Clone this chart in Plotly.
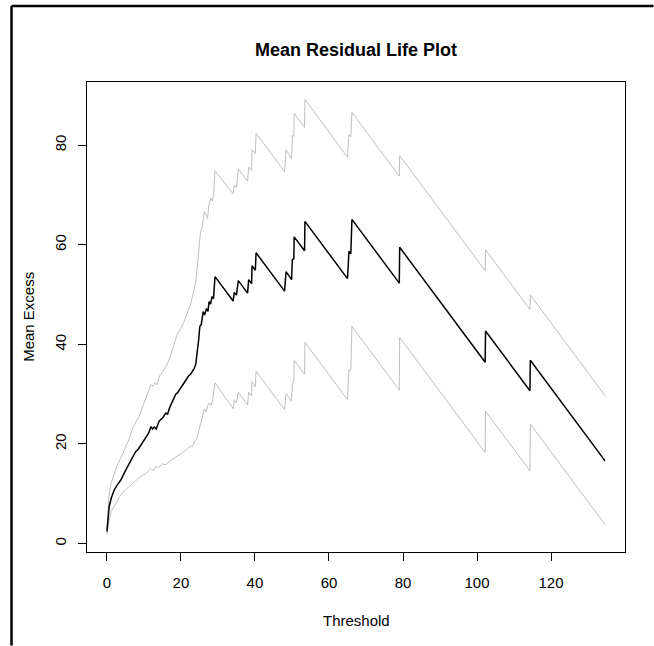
import plotly.graph_objects as go

# Threshold grid points where the curves change direction
thr_mean = [0, 0.3, 0.6, 1.2, 2.0, 2.8, 3.8, 4.7, 5.6, 6.7, 7.8, 8.3, 9.2, 10.1, 10.8,
            11.3, 11.9, 12.3, 12.8, 13.3, 14.1, 15.0, 15.9, 16.4, 17.0, 17.7, 18.6,
            19.1, 20.0, 20.6, 21.4, 22.0, 22.6, 23.1, 23.6, 24.0, 24.5, 24.8, 25.1,
            25.5, 26.0, 26.4, 26.9, 27.3, 27.6, 28.0, 28.4, 28.8, 29.2, 34.1, 34.4,
            35.0, 35.5, 38.0, 38.3, 39.1, 39.2, 40.1, 40.3, 48.0, 48.4, 49.9, 50.1,
            50.5, 50.6, 53.4, 53.5, 65.0, 65.4, 65.9, 66.2, 79.0, 79.1, 102.2, 102.3,
            114.3, 114.4, 134.6]
mean_excess = [2.4, 5.0, 7.4, 9.2, 10.8, 11.8, 12.8, 14.2, 15.6, 17.0, 18.5, 18.8, 19.8,
               20.8, 21.6, 22.2, 23.5, 23.0, 23.4, 23.0, 24.6, 25.2, 26.2, 26.0, 27.4,
               28.4, 30.0, 30.3, 31.2, 32.0, 32.9, 33.6, 34.0, 34.6, 35.2, 36.0, 38.9,
               41.0, 43.6, 44.0, 46.6, 45.9, 47.2, 46.6, 48.6, 48.1, 49.6, 49.2, 53.6,
               48.7, 50.4, 49.9, 52.8, 50.3, 53.0, 52.2, 55.8, 54.9, 58.4, 50.7, 54.6,
               53.0, 57.0, 57.2, 61.6, 58.8, 64.7, 53.2, 58.7, 58.2, 65.1, 52.3, 59.5,
               36.4, 42.7, 30.7, 36.8, 16.6]

thr_upper = [0, 0.3, 0.6, 1.2, 2.0, 2.8, 3.8, 5.1, 6.0, 7.0, 8.0, 8.7, 9.5, 10.4, 11.4,
             11.9, 12.5, 13.0, 13.5, 14.3, 15.2, 16.0, 16.4, 17.1, 17.7, 18.5, 19.1,
             20.0, 20.7, 21.4, 22.0, 22.6, 23.1, 23.6, 24.0, 24.5, 24.9, 25.3, 25.7,
             26.3, 26.7, 27.2, 27.5, 28.1, 28.5, 28.8, 29.2, 34.1, 34.4, 35.0, 35.5,
             38.0, 38.3, 39.1, 39.2, 40.1, 40.3, 48.0, 48.4, 49.9, 50.1, 50.5, 50.6,
             53.4, 53.5, 65.0, 65.4, 65.9, 66.2, 79.0, 79.1, 102.2, 102.3, 114.3,
             114.4, 134.6]
upper_ci = [3.0, 7.0, 10.1, 12.3, 14.1, 15.8, 17.3, 19.5, 21.0, 23.3, 24.6, 25.5, 27.2,
            29.0, 30.9, 31.9, 31.6, 32.3, 31.9, 33.8, 34.6, 35.5, 36.2, 37.6, 38.8,
            40.8, 42.2, 43.2, 44.3, 45.6, 46.8, 48.1, 49.5, 50.9, 52.5, 56.3, 60.0,
            62.7, 63.4, 66.7, 66.2, 65.3, 67.8, 69.4, 68.8, 70.0, 74.9, 70.2, 72.0,
            71.5, 75.2, 72.8, 75.6, 74.9, 79.1, 78.3, 82.4, 74.7, 79.1, 77.3, 82.0,
            81.8, 86.4, 83.6, 89.2, 77.6, 82.1, 81.7, 86.6, 73.8, 77.9, 54.8, 59.0,
            47.0, 49.9, 29.7]

thr_lower = [0, 0.3, 0.6, 1.2, 2.4, 3.5, 4.7, 6.0, 7.5, 9.0, 10.5, 11.9, 12.5, 13.2,
             14.0, 15.0, 16.0, 16.8, 17.6, 18.5, 19.5, 20.4, 21.4, 22.3, 23.1, 23.6,
             24.2, 24.9, 25.5, 26.3, 26.8, 27.3, 27.6, 28.2, 28.6, 29.2, 34.1, 34.4,
             35.0, 35.5, 38.0, 38.3, 39.1, 39.2, 40.1, 40.3, 48.0, 48.4, 49.9, 50.1,
             50.5, 50.6, 53.4, 53.5, 65.0, 65.4, 65.9, 66.2, 79.0, 79.1, 102.2, 102.3,
             114.3, 114.4, 134.6]
lower_ci = [1.8, 3.5, 4.8, 6.5, 8.1, 9.5, 10.6, 11.4, 12.5, 13.4, 14.1, 15.1, 14.6,
            15.5, 15.3, 16.0, 15.8, 16.5, 16.9, 17.3, 17.8, 18.2, 18.8, 19.4, 19.5,
            20.4, 21.0, 22.8, 24.5, 27.0, 26.4, 27.8, 28.2, 27.8, 29.0, 32.3, 27.1,
            28.8, 28.3, 30.4, 27.8, 30.4, 29.6, 32.5, 31.5, 34.6, 26.9, 30.1, 28.6,
            32.0, 32.6, 36.8, 34.0, 40.4, 28.9, 35.0, 34.8, 43.6, 30.8, 41.4, 18.3,
            26.6, 14.6, 24.0, 3.8]

x_ticks = [0, 20, 40, 60, 80, 100, 120]
y_ticks = [0, 20, 40, 60, 80]

FONT = "Liberation Sans, Arial, Helvetica, sans-serif"
GREY = "#BEBEBE"

fig = go.Figure()
fig.add_trace(go.Scatter(x=thr_upper, y=upper_ci, mode="lines",
                         line=dict(color=GREY, width=1), hoverinfo="skip"))
fig.add_trace(go.Scatter(x=thr_lower, y=lower_ci, mode="lines",
                         line=dict(color=GREY, width=1), hoverinfo="skip"))
fig.add_trace(go.Scatter(x=thr_mean, y=mean_excess, mode="lines",
                         line=dict(color="black", width=1.5), hoverinfo="skip"))

# R-style 4% padding around the data extent
all_x = thr_mean + thr_upper + thr_lower
xmin, xmax = min(all_x), max(all_x)
ymin, ymax = min(lower_ci), max(upper_ci)
xpad = 0.04 * (xmax - xmin)
ypad = 0.04 * (ymax - ymin)

axis_common = dict(showgrid=False, zeroline=False, showline=True, linecolor="black",
                   linewidth=1, mirror=True, ticks="outside", ticklen=8,
                   tickcolor="black", tickwidth=1,
                   tickfont=dict(family=FONT, size=15, color="black"))

fig.update_layout(
    width=654, height=646,
    margin=dict(l=87, r=29, t=82, b=94),
    paper_bgcolor="white", plot_bgcolor="white",
    showlegend=False,
    font=dict(family=FONT, color="black"),
    xaxis=dict(range=[xmin - xpad, xmax + xpad], tickvals=x_ticks,
               ticktext=[str(v) for v in x_ticks], ticklabelstandoff=9, **axis_common),
    yaxis=dict(range=[ymin - ypad, ymax + ypad], tickvals=y_ticks,
               ticktext=[str(v) for v in y_ticks], tickangle=-90,
               ticklabelstandoff=6, **axis_common),
    annotations=[
        dict(text="<b>Mean Residual Life Plot</b>", xref="paper", yref="paper",
             x=0.5, y=1.068, xanchor="center", yanchor="middle", showarrow=False,
             font=dict(family=FONT, size=18, color="black")),
        dict(text="Threshold", xref="paper", yref="paper", x=0.5, y=-0.145,
             xanchor="center", yanchor="middle", showarrow=False,
             font=dict(family=FONT, size=15, color="black")),
        dict(text="Mean Excess", xref="paper", yref="paper", x=-0.11, y=0.5,
             xanchor="center", yanchor="middle", textangle=-90, showarrow=False,
             font=dict(family=FONT, size=15, color="black")),
    ],
    shapes=[
        # outer figure frame: left and top edges, kept inside the canvas
        dict(type="line", xref="paper", yref="paper", x0=-0.1403, y0=-0.199,
             x1=-0.1403, y1=1.1617, line=dict(color="black", width=2.5)),
        dict(type="line", xref="paper", yref="paper", x0=-0.1403, y0=1.1617,
             x1=1.053, y1=1.1617, line=dict(color="black", width=2.5)),
    ],
)

fig.write_html("out.html")
